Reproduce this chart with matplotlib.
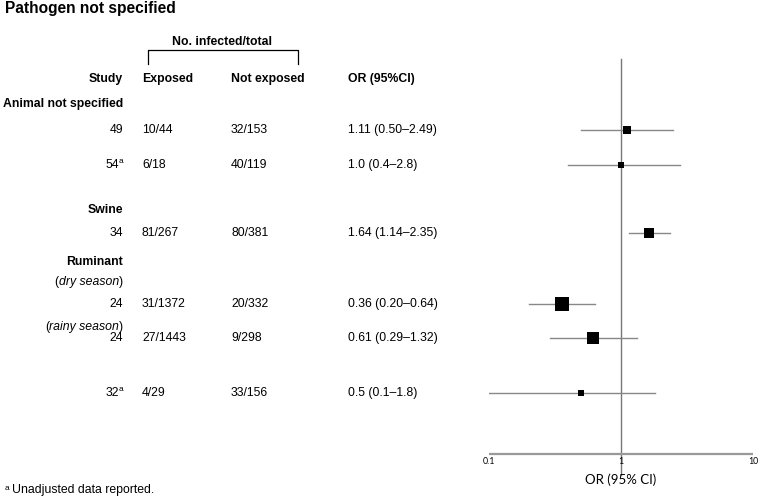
import matplotlib
matplotlib.use("Agg")
import matplotlib.pyplot as plt
import numpy as np

plt.rcParams['font.family'] = ['Liberation Sans', 'DejaVu Sans']

# ---- data ----
studies = ["49", "54", "34", "24", "24", "32"]
study_sup = ["", "a", "", "", "", "a"]
exposed = ["10/44", "6/18", "81/267", "31/1372", "27/1443", "4/29"]
not_exposed = ["32/153", "40/119", "80/381", "20/332", "9/298", "33/156"]
or_text = ["1.11 (0.50\u20132.49)", "1.0 (0.4\u20132.8)", "1.64 (1.14\u20132.35)",
           "0.36 (0.20\u20130.64)", "0.61 (0.29\u20131.32)", "0.5 (0.1\u20131.8)"]
or_val = [1.11, 1.0, 1.64, 0.36, 0.61, 0.5]
ci_lo = [0.50, 0.4, 1.14, 0.20, 0.29, 0.1]
ci_hi = [2.49, 2.8, 2.35, 0.64, 1.32, 1.8]
weights = [8, 5.5, 10, 14, 12.5, 6.5]  # relative marker size (px)
xticks = [0.1, 1, 10]
xtick_labels = ["0.1", "1", "10"]

# ---- layout (pixel coords) ----
W, H = 760, 497
row_y = [130, 165, 233, 304, 338, 393]

fig = plt.figure(figsize=(W / 100, H / 100), dpi=100)
bg = fig.add_axes([0, 0, 1, 1])
bg.set_xlim(0, W)
bg.set_ylim(H, 0)
bg.axis('off')

fs = 8.8
sup_fs = 6.0


def right_chain(x, y, pieces):
    """pieces listed right-to-left: (text, kwargs, dy_points)"""
    prev = None
    for txt, kw, dy in pieces:
        if prev is None:
            prev = bg.annotate(txt, xy=(x, y), xycoords='data', ha='right', va='center',
                               xytext=(0, dy), textcoords='offset points', **kw)
        else:
            prev = bg.annotate(txt, xy=(0, 0.5), xycoords=prev, ha='right', va='center',
                               xytext=(0, dy), textcoords='offset points', **kw)
    return prev


bg.text(5, 9, "Pathogen not specified", fontsize=11.2, fontweight='bold', va='center', ha='left')
bg.text(222, 42, "No. infected/total", fontsize=fs, fontweight='bold', va='center', ha='center')
bg.plot([148, 148, 298, 298], [64, 50, 50, 64], color='black', lw=0.9)

hy = 79
bg.text(123, hy, "Study", fontsize=fs, fontweight='bold', va='center', ha='right')
bg.text(142, hy, "Exposed", fontsize=fs, fontweight='bold', va='center', ha='left')
bg.text(231, hy, "Not exposed", fontsize=fs, fontweight='bold', va='center', ha='left')
bg.text(348, hy, "OR (95%CI)", fontsize=fs, fontweight='bold', va='center', ha='left')

bg.text(123, 104, "Animal not specified", fontsize=fs, fontweight='bold', va='center', ha='right')
bg.text(123, 210, "Swine", fontsize=fs, fontweight='bold', va='center', ha='right')
bg.text(123, 262, "Ruminant", fontsize=fs, fontweight='bold', va='center', ha='right')
right_chain(123, 282, [(")", dict(fontsize=fs), 0),
                       ("dry season", dict(fontsize=fs, fontstyle='italic'), 0),
                       ("(", dict(fontsize=fs), 0)])
right_chain(123, 327, [(")", dict(fontsize=fs), 0),
                       ("rainy season", dict(fontsize=fs, fontstyle='italic'), 0),
                       ("(", dict(fontsize=fs), 0)])

for i, y in enumerate(row_y):
    if study_sup[i]:
        sup = bg.annotate(study_sup[i], xy=(123, y), xycoords='data', ha='right', va='center',
                          xytext=(0, 2.2), textcoords='offset points', fontsize=sup_fs)
        bg.annotate(studies[i], xy=(0, 0.5), xycoords=sup, ha='right', va='center',
                    xytext=(0.6, -2.2), textcoords='offset points', fontsize=fs)
    else:
        bg.text(123, y, studies[i], fontsize=fs, va='center', ha='right')
    bg.text(142, y, exposed[i], fontsize=fs, va='center', ha='left')
    bg.text(231, y, not_exposed[i], fontsize=fs, va='center', ha='left')
    bg.text(348, y, or_text[i], fontsize=fs, va='center', ha='left')

fsup = bg.text(5, 488, "a", fontsize=sup_fs, va='center', ha='left')
bg.annotate("Unadjusted data reported.", xy=(1, 0.5), xycoords=fsup, ha='left', va='center',
            xytext=(2.0, -1.6), textcoords='offset points', fontsize=fs)

# ---- forest axes ----
x0, x1 = 489, 753
ax = fig.add_axes([x0 / W, 0, (x1 - x0) / W, 1])
ax.set_xscale('log')
ax.set_xlim(0.1, 10)
ax.set_ylim(H, 0)
ax.axis('off')
ax.patch.set_alpha(0)

ax.plot([1, 1], [59, 475], color='#777777', lw=1.0, zorder=1)
ax.plot([0.1, 10], [454, 454], color='#999999', lw=1.6, zorder=1)
for t, tl in zip(xticks, xtick_labels):
    ax.text(t, 461, tl, fontsize=6.3, family=['Lato', 'DejaVu Sans'], ha='center', va='center')
ax.text(1, 480, "OR (95% CI)", fontsize=9.5, family=['Lato', 'DejaVu Sans'], ha='center', va='center')

for i, y in enumerate(row_y):
    ax.plot([ci_lo[i], ci_hi[i]], [y, y], color='#888888', lw=1.0, zorder=2)
    ax.plot([or_val[i]], [y], marker='s', color='black', markersize=weights[i] * 0.72,
            markeredgewidth=0, zorder=3)

fig.savefig("out.png", dpi=100)
